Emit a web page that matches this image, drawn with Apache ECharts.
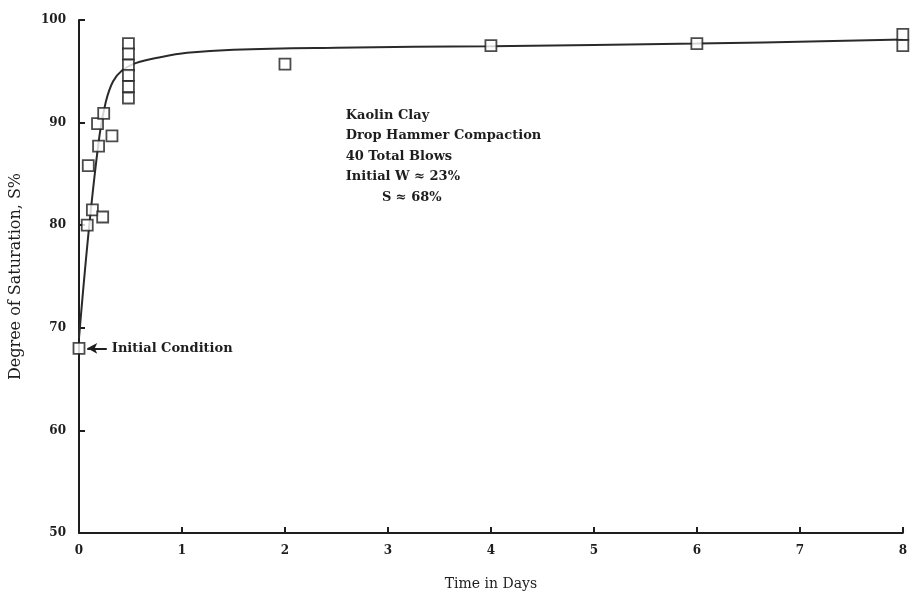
<!DOCTYPE html>
<html>
<head>
<meta charset="utf-8">
<script src="https://cdn.jsdelivr.net/npm/echarts@6/dist/echarts.min.js"></script>
<style>
html,body{margin:0;padding:0;background:#fff;}
#main{width:910px;height:596px;}
</style>
</head>
<body>
<div id="main"></div>
<script>
// Observed data points (days, degree of saturation %)
var pointDays = [0, 0.08, 0.09, 0.13, 0.18, 0.19, 0.24, 0.23, 0.32,
                 0.48, 0.48, 0.48, 0.48, 0.48, 0.48,
                 2, 4, 6, 8, 8];
var pointSat  = [68, 80.0, 85.8, 81.5, 89.9, 87.7, 90.9, 80.8, 88.7,
                 97.7, 96.7, 95.6, 94.6, 93.5, 92.4,
                 95.7, 97.5, 97.7, 98.6, 97.5];

// Fitted curve
var curveDays = [0, 0.1, 0.2, 0.26, 0.33, 0.42, 0.55, 0.8, 1.05, 1.5, 2.5, 4, 6, 8];
var curveSat  = [69, 80.0, 88.8, 92.0, 94.0, 95.1, 95.8, 96.4, 96.8, 97.1, 97.3, 97.45, 97.7, 98.1];

var xTicks = [0, 1, 2, 3, 4, 5, 6, 7, 8];
var yTicks = [50, 60, 70, 80, 90, 100];

var noteLines = ['Kaolin Clay', 'Drop Hammer Compaction', '40 Total Blows', 'Initial W \u2248 23%', '        S \u2248 68%'];
var noteAnchor = [2.59, 91.7];
var initialLabel = 'Initial Condition';
var arrowFrom = [0.27, 68];
var arrowTo = [0.08, 68];

var FONT = '"DejaVu Serif", serif';
var INK = '#1e1e1e';

var chart = echarts.init(document.getElementById('main'));
var option = {
  backgroundColor: '#fff',
  animation: false,
  grid: { left: 79, right: 7, top: 20, bottom: 58, containLabel: false },
  xAxis: {
    type: 'value', min: xTicks[0], max: xTicks[xTicks.length - 1], interval: 1,
    name: 'Time in Days', nameLocation: 'middle', nameGap: 44,
    nameTextStyle: { fontFamily: FONT, fontSize: 14, color: INK },
    axisLine: { show: true, lineStyle: { color: INK, width: 2 } },
    axisTick: { show: true, inside: true, length: 6, lineStyle: { color: INK, width: 2 } },
    axisLabel: { fontFamily: FONT, fontSize: 12, color: INK, fontWeight: 'bold', margin: 12 },
    splitLine: { show: false }
  },
  yAxis: {
    type: 'value', min: yTicks[0], max: yTicks[yTicks.length - 1], interval: 10,
    name: 'Degree of Saturation, S%', nameLocation: 'middle', nameGap: 55,
    nameTextStyle: { fontFamily: FONT, fontSize: 16, color: INK },
    axisLine: { show: true, lineStyle: { color: INK, width: 2 } },
    axisTick: { show: true, inside: true, length: 6, lineStyle: { color: INK, width: 2 } },
    axisLabel: { fontFamily: FONT, fontSize: 12, color: INK, fontWeight: 'bold', margin: 13 },
    splitLine: { show: false }
  },
  series: [
    {
      type: 'line', name: 'curve',
      data: curveDays.map(function (d, i) { return [d, curveSat[i]]; }),
      smooth: 0.4, showSymbol: false,
      lineStyle: { color: '#2a2a2a', width: 2 },
      z: 2
    },
    {
      type: 'scatter', name: 'data',
      data: pointDays.map(function (d, i) { return [d, pointSat[i]]; }),
      symbol: 'rect', symbolSize: 11,
      itemStyle: { color: '#fff', borderColor: INK, borderWidth: 1.8 },
      z: 3,
      markLine: {
        silent: true, symbol: ['none', 'arrow'], symbolSize: [8, 10],
        lineStyle: { color: INK, width: 2, type: 'solid' },
        label: { show: false },
        data: [[{ coord: arrowFrom }, { coord: arrowTo }]]
      },
      markPoint: {
        silent: true, symbol: 'circle', symbolSize: 0,
        label: { show: true, position: 'right', distance: 5, formatter: initialLabel,
                 fontFamily: FONT, fontSize: 13, fontWeight: 'bold', color: INK },
        data: [{ coord: arrowFrom }]
      }
    }
  ]
};
chart.setOption(option);

var p = chart.convertToPixel({ gridIndex: 0 }, noteAnchor);
chart.setOption({
  graphic: [{
    type: 'text', x: p[0], y: p[1],
    style: { text: noteLines.join('\n'), font: 'bold 13px ' + FONT, fill: INK, lineHeight: 20.5, textAlign: 'left', textVerticalAlign: 'top' }
  }]
});
</script>
</body>
</html>
